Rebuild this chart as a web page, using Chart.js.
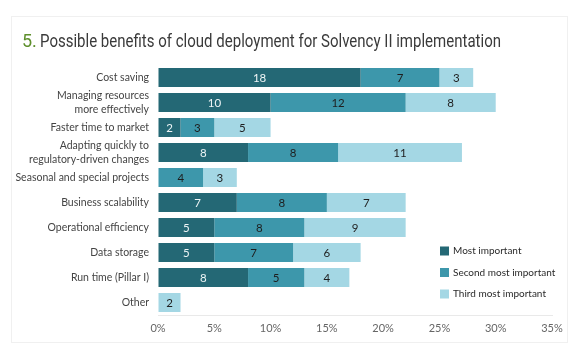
<!DOCTYPE html>
<html>
<head>
<meta charset="utf-8">
<script src="https://cdn.jsdelivr.net/npm/chart.js@4"></script>
<style>
	html, body { margin: 0; padding: 0; background: #ffffff; }
</style>
</head>
<body>
<canvas id="chart" width="580" height="358"></canvas>
<script>
var categories = [
	["Cost saving"],
	["Managing resources", "more effectively"],
	["Faster time to market"],
	["Adapting quickly to", "regulatory-driven changes"],
	["Seasonal and special projects"],
	["Business scalability"],
	["Operational efficiency"],
	["Data storage"],
	["Run time (Pillar I)"],
	["Other"]
]
var seriesNames = ["Most important", "Second most important", "Third most important"]
var mostImportant = [18, 10, 2, 8, 0, 7, 5, 5, 8, 0]
var secondMost = [7, 12, 3, 8, 4, 8, 8, 7, 5, 0]
var thirdMost = [3, 8, 5, 11, 3, 7, 9, 6, 4, 2]
var xTicks = [0, 5, 10, 15, 20, 25, 30, 35]

var colors = ['#246875', '#3d97ab', '#a4d7e4']
var labelColors = ['#eef5f6', '#1e1e1e', '#1e1e1e']

var frame = {
	id: 'frame',
	beforeDraw: function(chart)
	{
		var ctx = chart.ctx
		ctx.save()
		ctx.strokeStyle = '#f0f0f0'
		ctx.lineWidth = 1
		ctx.strokeRect(11.5, 16.5, 556, 326)

		// title: green number, gray text squeezed to the reference width
		ctx.textBaseline = 'alphabetic'
		ctx.font = '18px Roboto'
		ctx.fillStyle = '#5e8f2c'
		ctx.fillText('5.', 22, 47)
		var text = 'Possible benefits of cloud deployment for Solvency II implementation'
		var w = ctx.measureText(text).width
		var sx = 461 / w
		ctx.translate(40, 47)
		ctx.scale(sx, 1)
		ctx.fillStyle = '#3a3a3a'
		ctx.fillText(text, 0, 0)
		ctx.restore()
	}
}

var valueLabels = {
	id: 'valueLabels',
	afterDatasetsDraw: function(chart)
	{
		var ctx = chart.ctx
		ctx.save()
		ctx.font = '11.5px Lato'
		ctx.textAlign = 'center'
		ctx.textBaseline = 'middle'
		chart.data.datasets.forEach(function(ds, i)
		{
			var meta = chart.getDatasetMeta(i)
			meta.data.forEach(function(bar, j)
			{
				var v = ds.data[j]
				if(!v) return
				ctx.fillStyle = labelColors[i]
				ctx.fillText(v, (bar.x + bar.base) / 2, bar.y + 1)
			})
		})
		ctx.restore()
	}
}

var legendBox = {
	id: 'legendBox',
	afterDraw: function(chart)
	{
		var ctx = chart.ctx
		ctx.save()
		ctx.font = '10px Lato'
		ctx.textAlign = 'left'
		ctx.textBaseline = 'middle'
		for(var i = 0; i < seriesNames.length; i++)
		{
			var y = 251 + i * 21.5
			ctx.fillStyle = colors[i]
			ctx.fillRect(440, y - 4.5, 9, 9)
			ctx.fillStyle = '#2a2a2a'
			ctx.fillText(seriesNames[i], 453, y)
		}
		ctx.restore()
	}
}

var datasets = [mostImportant, secondMost, thirdMost].map(function(d, i)
{
	return {
		label: seriesNames[i],
		data: d,
		backgroundColor: colors[i],
		borderWidth: 0,
		barPercentage: 0.76,
		categoryPercentage: 1
	}
})

var myChart = new Chart(document.getElementById('chart'), {
	type: 'bar',
	data: {
		labels: categories,
		datasets: datasets
	},
	options: {
		indexAxis: 'y',
		responsive: false,
		animation: false,
		devicePixelRatio: 1,
		layout: {
			padding: { top: 65, right: 28, bottom: 13, left: 0 }
		},
		plugins: {
			legend: { display: false },
			tooltip: { enabled: false }
		},
		scales: {
			x: {
				stacked: true,
				min: 0,
				max: 35,
				afterBuildTicks: function(scale)
				{
					scale.ticks = xTicks.map(function(v) { return { value: v } })
				},
				afterFit: function(scale) { scale.height = 30 },
				ticks: {
					callback: function(v) { return v + '%' },
					color: '#666666',
					font: { family: 'Lato', size: 11 },
					padding: 7
				},
				grid: { display: true, color: 'transparent', drawTicks: false },
				border: { display: true, color: '#e9e9e9', width: 1 }
			},
			y: {
				stacked: true,
				afterFit: function(scale) { scale.width = 158 },
				ticks: {
					autoSkip: false,
					color: '#444444',
					font: { family: 'Lato', size: 10.5, lineHeight: 1.35 },
					padding: 9
				},
				grid: { display: false, drawTicks: false },
				border: { display: false }
			}
		}
	},
	plugins: [frame, valueLabels, legendBox]
})
</script>
</body>
</html>
